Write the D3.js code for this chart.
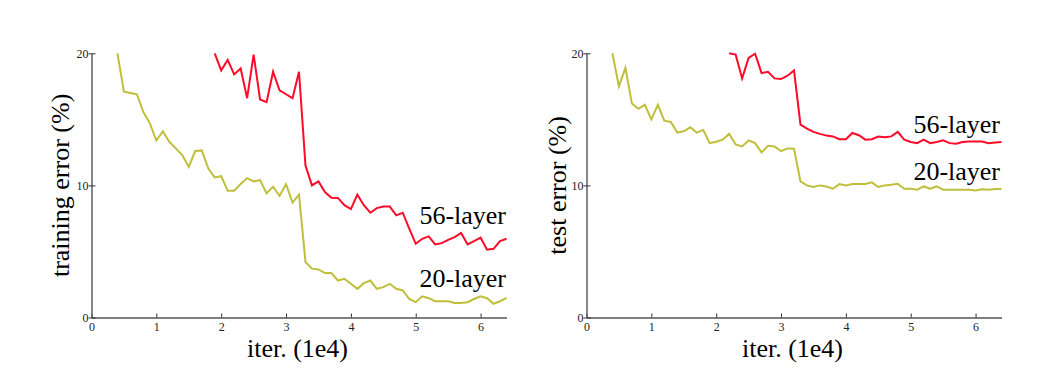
<!DOCTYPE html>
<html>
<head>
<meta charset="utf-8">
<script src="https://cdn.jsdelivr.net/npm/d3@7"></script>
<style>
  body { margin: 0; background: #fff; }
  svg { display: block; }
  .tick text { font-family: "Liberation Serif", "Times New Roman", serif; font-size: 12px; fill: #222; }
</style>
</head>
<body>
<svg id="chart" width="1039" height="368"></svg>
<script>
// iterations (1e4)
const itersShort = [0.4, 0.5, 0.6, 0.7, 0.8, 0.9, 1.0, 1.1, 1.2, 1.3, 1.4, 1.5, 1.6, 1.7, 1.8, 1.9, 2.0,
  2.1, 2.2, 2.3, 2.4, 2.5, 2.6, 2.7, 2.8, 2.9, 3.0, 3.1, 3.2, 3.3, 3.4, 3.5, 3.6, 3.7, 3.8, 3.9, 4.0,
  4.1, 4.2, 4.3, 4.4, 4.5, 4.6, 4.7, 4.8, 4.9, 5.0, 5.1, 5.2, 5.3, 5.4, 5.5, 5.6, 5.7, 5.8, 5.9, 6.0,
  6.1, 6.2, 6.3, 6.4];
const itersTrain56 = [1.9, 2.0, 2.1, 2.2, 2.3, 2.4, 2.5, 2.6, 2.7, 2.8, 2.9, 3.0, 3.1, 3.2, 3.3, 3.4,
  3.5, 3.6, 3.7, 3.8, 3.9, 4.0, 4.1, 4.2, 4.3, 4.4, 4.5, 4.6, 4.7, 4.8, 4.9, 5.0, 5.1, 5.2, 5.3, 5.4,
  5.5, 5.6, 5.7, 5.8, 5.9, 6.0, 6.1, 6.2, 6.3, 6.4];
const itersTest56 = [2.2, 2.3, 2.4, 2.5, 2.6, 2.7, 2.8, 2.9, 3.0, 3.1, 3.2, 3.3, 3.4, 3.5, 3.6, 3.7,
  3.8, 3.9, 4.0, 4.1, 4.2, 4.3, 4.4, 4.5, 4.6, 4.7, 4.8, 4.9, 5.0, 5.1, 5.2, 5.3, 5.4, 5.5, 5.6, 5.7,
  5.8, 5.9, 6.0, 6.1, 6.2, 6.3, 6.4];

// training error (%)
const train20 = [20, 17.1, 17.0, 16.9, 15.55, 14.7, 13.4, 14.1, 13.3, 12.8, 12.3, 11.4, 12.6, 12.65,
  11.3, 10.6, 10.7, 9.6, 9.6, 10.1, 10.55, 10.3, 10.4, 9.4, 9.9, 9.2, 10.1, 8.7, 9.3, 4.2, 3.7, 3.64,
  3.36, 3.36, 2.8, 2.93, 2.55, 2.17, 2.6, 2.8, 2.17, 2.3, 2.55, 2.17, 2.05, 1.4, 1.16, 1.6, 1.46,
  1.23, 1.23, 1.23, 1.1, 1.1, 1.16, 1.4, 1.6, 1.46, 1.04, 1.23, 1.49];
const train56 = [20, 18.7, 19.5, 18.4, 18.85, 16.6, 19.9, 16.5, 16.3, 18.6, 17.2, 16.9, 16.6, 18.6,
  11.5, 10.0, 10.3, 9.5, 9.07, 9.05, 8.5, 8.2, 9.3, 8.5, 7.93, 8.28, 8.4, 8.4, 7.73, 7.93, 6.72, 5.58,
  5.96, 6.14, 5.53, 5.63, 5.88, 6.08, 6.4, 5.53, 5.78, 6.04, 5.13, 5.2, 5.78, 5.96];

// test error (%)
const test20 = [20, 17.5, 18.9, 16.2, 15.8, 16.1, 15.0, 16.1, 14.9, 14.8, 14.0, 14.1, 14.4, 14.0,
  14.2, 13.2, 13.3, 13.46, 13.9, 13.1, 12.95, 13.4, 13.2, 12.5, 13.0, 12.95, 12.6, 12.8, 12.78, 10.3,
  10.0, 9.88, 10.0, 9.92, 9.75, 10.1, 10.0, 10.1, 10.1, 10.1, 10.23, 9.88, 10.0, 10.05, 10.13, 9.75,
  9.75, 9.67, 9.92, 9.75, 9.92, 9.67, 9.67, 9.67, 9.67, 9.67, 9.62, 9.7, 9.67, 9.72, 9.72];
const test56 = [20, 19.9, 18.1, 19.65, 19.97, 18.5, 18.6, 18.1, 18.05, 18.3, 18.7, 14.6, 14.3, 14.05,
  13.9, 13.77, 13.71, 13.5, 13.5, 13.97, 13.8, 13.46, 13.5, 13.7, 13.64, 13.71, 14.05, 13.46, 13.29,
  13.2, 13.46, 13.2, 13.29, 13.41, 13.2, 13.16, 13.29, 13.33, 13.33, 13.33, 13.2, 13.25, 13.29];

const xTicks = [0, 1, 2, 3, 4, 5, 6];
const yTicks = [0, 10, 20];
const seriesNames = ["20-layer", "56-layer"];
const colors = {"20-layer": "#bfbf3c", "56-layer": "#ff0a28"};

const panels = [
  {ylabel: "training error (%)", left: 91.5, labelX: 60,
   series: [{name: "20-layer", x: itersShort, y: train20}, {name: "56-layer", x: itersTrain56, y: train56}],
   labels: {"56-layer": [506, 224], "20-layer": [506, 287]}},
  {ylabel: "test error (%)", left: 586.5, labelX: 557,
   series: [{name: "20-layer", x: itersShort, y: test20}, {name: "56-layer", x: itersTest56, y: test56}],
   labels: {"56-layer": [1000, 133], "20-layer": [1000, 180]}}
];

const svg = d3.select("#chart");
const plotW = 415, plotTop = 53.3, plotBottom = 317.5;
const serif = "'Liberation Serif', 'Times New Roman', serif";

panels.forEach(p => {
  const x = d3.scaleLinear().domain([0, 6.4]).range([p.left, p.left + plotW]);
  const y = d3.scaleLinear().domain([0, 20]).range([plotBottom, plotTop]);

  const g = svg.append("g");

  // axes, ticks point inward
  g.append("g")
    .attr("transform", `translate(0,${plotBottom})`)
    .call(d3.axisTop(x).tickValues(xTicks).tickFormat(d3.format("d")).tickSizeInner(4).tickSizeOuter(0))
    .call(a => a.select(".domain").attr("stroke", "#555").attr("stroke-width", 1.4))
    .call(a => a.selectAll(".tick line").attr("stroke", "#333"))
    .call(a => a.selectAll(".tick text").attr("y", 5).attr("dy", "0.71em"));

  g.append("g")
    .attr("transform", `translate(${p.left},0)`)
    .call(d3.axisRight(y).tickValues(yTicks).tickFormat(d3.format("d")).tickSizeInner(4).tickSizeOuter(0))
    .call(a => a.select(".domain").attr("stroke", "#555").attr("stroke-width", 1.4))
    .call(a => a.selectAll(".tick line").attr("x1", -3).attr("stroke", "#333"))
    .call(a => a.selectAll(".tick text").attr("x", -3).attr("text-anchor", "end"));

  const line = d3.line().x(d => x(d[0])).y(d => y(d[1]));

  p.series.forEach(s => {
    g.append("path")
      .datum(s.x.map((v, i) => [v, s.y[i]]))
      .attr("fill", "none")
      .attr("stroke", colors[s.name])
      .attr("stroke-width", 2)
      .attr("stroke-linejoin", "miter")
      .attr("d", line);
  });

  seriesNames.forEach(n => {
    g.append("text")
      .attr("x", p.labels[n][0]).attr("y", p.labels[n][1])
      .attr("text-anchor", "end")
      .attr("font-family", serif).attr("font-size", 26)
      .text(n);
  });

  // axis titles
  g.append("text")
    .attr("x", p.left + 206).attr("y", 357)
    .attr("text-anchor", "middle")
    .attr("font-family", serif).attr("font-size", 26)
    .text("iter. (1e4)");

  g.append("text")
    .attr("transform", `translate(${p.labelX},${(plotTop + plotBottom) / 2}) rotate(-90)`)
    .attr("text-anchor", "middle").attr("dy", "0.35em")
    .attr("font-family", serif).attr("font-size", 26)
    .text(p.ylabel);
});
</script>
</body>
</html>
